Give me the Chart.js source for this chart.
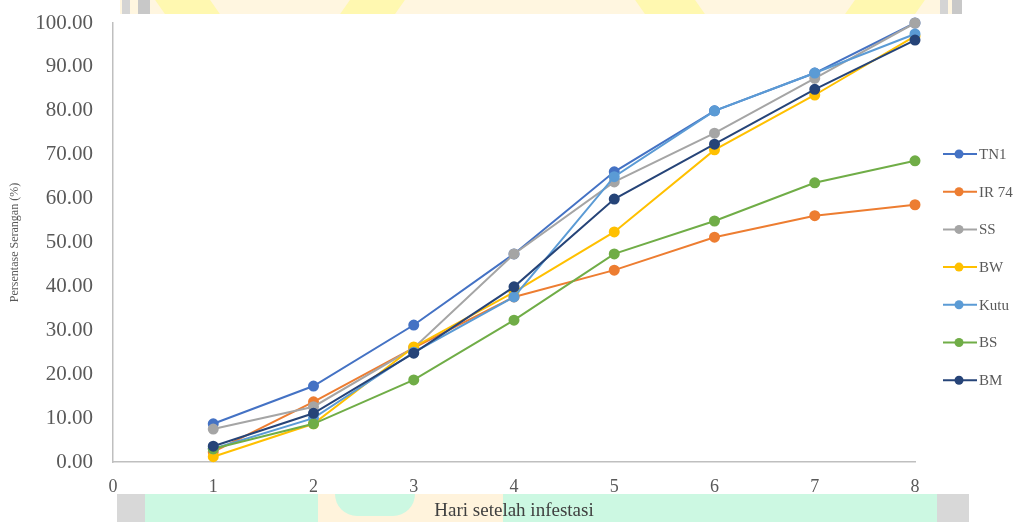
<!DOCTYPE html>
<html>
<head>
<meta charset="utf-8">
<script src="https://cdn.jsdelivr.net/npm/chart.js@4"></script>
<style>
  body { margin: 0; background: #fff; }
  #wrap { position: relative; width: 1019px; height: 522px; overflow: hidden; }
  .wm { position: absolute; }
  #grafik { position: absolute; left: 0; top: 0; }
</style>
</head>
<body>
<div id="wrap">
  <!-- watermark logo (faint) -->
  <div class="wm" style="left:120px;top:0;width:840px;height:14px;background:#fff6e0"></div>
  <div class="wm" style="left:160px;top:0;width:55px;height:14px;background:#fff8b0;transform:skewX(35deg)"></div>
  <div class="wm" style="left:345px;top:0;width:55px;height:14px;background:#fff8b0;transform:skewX(-35deg)"></div>
  <div class="wm" style="left:640px;top:0;width:60px;height:14px;background:#fff8b0;transform:skewX(35deg)"></div>
  <div class="wm" style="left:850px;top:0;width:70px;height:14px;background:#fff8b0;transform:skewX(-35deg)"></div>
  <div class="wm" style="left:122px;top:0;width:8px;height:14px;background:#d4d4d4"></div>
  <div class="wm" style="left:138px;top:0;width:12px;height:14px;background:#c8c8c8"></div>
  <div class="wm" style="left:940px;top:0;width:8px;height:14px;background:#d4d4d4"></div>
  <div class="wm" style="left:952px;top:0;width:10px;height:14px;background:#c8c8c8"></div>
  <div class="wm" style="left:117px;top:494px;width:850px;height:28px;background:#ccf8e2"></div>
  <div class="wm" style="left:318px;top:494px;width:185px;height:28px;background:#fff3dc"></div>
  <div class="wm" style="left:335px;top:494px;width:80px;height:22px;border-radius:0 0 40px 40px;background:#ccf8e2"></div>
  <div class="wm" style="left:117px;top:494px;width:28px;height:28px;background:#d8d8d8"></div>
  <div class="wm" style="left:937px;top:494px;width:32px;height:28px;background:#d8d8d8"></div>
  <canvas id="grafik" width="1019" height="522"></canvas>
</div>
<script>
// Data persentase serangan per hari setelah infestasi
const hari = [1, 2, 3, 4, 5, 6, 7, 8];
const namaSeri = ['TN1', 'IR 74', 'SS', 'BW', 'Kutu', 'BS', 'BM'];
const tn1  = [8.7, 17.3, 31.2, 47.4, 66.1, 80.0, 88.6, 100.0];
const ir74 = [2.3, 13.7, 26.0, 37.6, 43.7, 51.2, 56.1, 58.6];
const ss   = [7.5, 12.6, 26.0, 47.4, 63.8, 74.9, 87.4, 100.0];
const bw   = [1.2, 8.7, 26.2, 38.7, 52.4, 71.1, 83.6, 97.0];
const kutu = [3.0, 10.0, 25.0, 37.6, 65.0, 80.0, 88.6, 97.5];
const bs   = [3.0, 8.7, 18.7, 32.3, 47.4, 54.9, 63.6, 68.6];
const bm   = [3.6, 11.1, 24.8, 39.9, 59.9, 72.4, 84.9, 96.1];
const warna = ['#4472C4', '#ED7D31', '#A5A5A5', '#FFC000', '#5B9BD5', '#70AD47', '#264478'];

const nilaiSeri = [tn1, ir74, ss, bw, kutu, bs, bm];

const datasets = namaSeri.map((nama, i) => ({
  label: nama,
  data: hari.map((h, j) => ({ x: h, y: nilaiSeri[i][j] })),
  borderColor: warna[i],
  backgroundColor: warna[i],
  borderWidth: 2,
  pointRadius: 4.5,
  pointHoverRadius: 4.5,
  order: namaSeri.length - 1 - i,
  clip: false,
  fill: false,
  tension: 0
}));

const serif = "'Liberation Serif', 'Times New Roman', serif";

// Legenda di kanan: garis + titik
const legendaKanan = {
  id: 'legendaKanan',
  afterDraw(chart) {
    const ctx = chart.ctx;
    ctx.save();
    ctx.font = '15px ' + serif;
    ctx.textBaseline = 'middle';
    chart.data.datasets.forEach((ds, i) => {
      const y = 154 + i * 37.7;
      ctx.strokeStyle = ds.borderColor;
      ctx.lineWidth = 2;
      ctx.beginPath();
      ctx.moveTo(943, y);
      ctx.lineTo(977, y);
      ctx.stroke();
      ctx.fillStyle = ds.borderColor;
      ctx.beginPath();
      ctx.arc(959, y, 4.5, 0, Math.PI * 2);
      ctx.fill();
      ctx.fillStyle = '#595959';
      ctx.fillText(ds.label, 979, y + 1);
    });
    ctx.restore();
  }
};

new Chart(document.getElementById('grafik'), {
  type: 'line',
  data: { datasets: datasets },
  options: {
    responsive: false,
    animation: false,
    layout: { padding: { top: 23, right: 104, left: 8, bottom: 0 } },
    plugins: {
      legend: { display: false },
      tooltip: { enabled: false }
    },
    scales: {
      x: {
        type: 'linear',
        min: 0,
        max: 8,
        grid: { display: false, drawTicks: false },
        border: { color: '#bfbfbf', width: 1.5 },
        ticks: {
          stepSize: 1,
          padding: 14,
          color: '#595959',
          font: { family: serif, size: 18 }
        },
        title: {
          display: true,
          text: 'Hari setelah infestasi',
          color: '#404040',
          font: { family: serif, size: 19 },
          padding: { top: 6, bottom: 0 }
        },
        afterFit(scale) { scale.height = 60; }
      },
      y: {
        min: 0,
        max: 100,
        grid: { display: false, drawTicks: false },
        border: { color: '#bfbfbf', width: 1.5 },
        ticks: {
          stepSize: 10,
          padding: 20,
          color: '#595959',
          font: { family: serif, size: 21 },
          callback: v => v.toFixed(2)
        },
        title: {
          display: true,
          text: 'Persentase Serangan (%)',
          color: '#595959',
          font: { family: serif, size: 12 },
          padding: 0
        },
        afterFit(scale) {
          scale.width = 105;
          scale.paddingTop = 0;
          scale.paddingBottom = 0;
        }
      }
    }
  },
  plugins: [legendaKanan]
});
</script>
</body>
</html>
